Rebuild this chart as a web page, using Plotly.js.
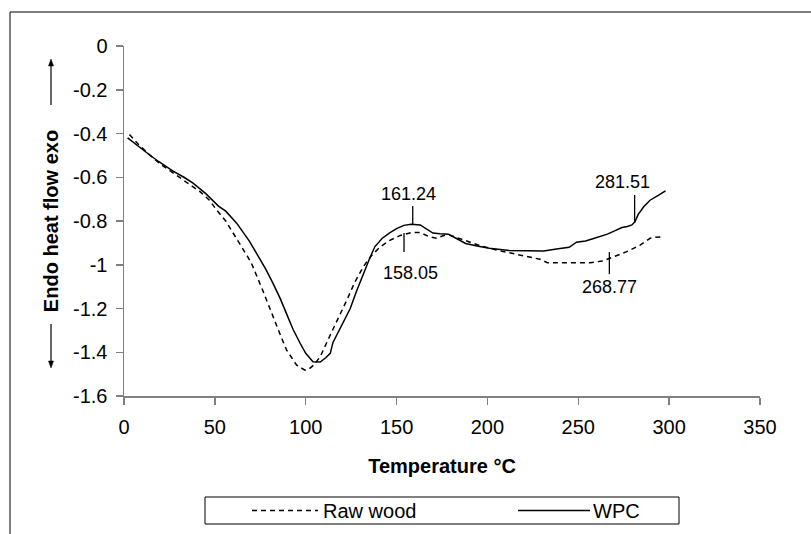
<!DOCTYPE html>
<html>
<head>
<meta charset="utf-8">
<script src="https://cdn.plot.ly/plotly-3.0.1.min.js"></script>
<style>html,body{margin:0;padding:0;background:#fff;}#chart{width:811px;height:534px;}</style>
</head>
<body>
<div id="chart"></div>
<script>
// ---- Data ----
const rawTemp = [3, 8, 14, 20, 27, 33, 42, 47, 51, 56, 60, 65, 70, 76, 82, 86, 89.5, 93, 95, 99.6, 102, 104.5, 108, 113, 118, 122.6, 127, 131.7, 136, 141, 146, 152, 158, 163, 168, 172, 176, 179, 187, 195, 205, 214, 223, 229, 233, 240, 250, 256.5, 263.8, 269.3, 276.7, 284, 289.5, 292, 296];
const rawFlow = [-0.405, -0.45, -0.497, -0.54, -0.58, -0.615, -0.667, -0.705, -0.75, -0.8, -0.856, -0.92, -0.99, -1.11, -1.24, -1.32, -1.39, -1.435, -1.459, -1.482, -1.475, -1.458, -1.42, -1.33, -1.245, -1.162, -1.08, -1.009, -0.96, -0.918, -0.89, -0.866, -0.853, -0.853, -0.872, -0.879, -0.866, -0.864, -0.887, -0.91, -0.933, -0.948, -0.963, -0.975, -0.991, -0.991, -0.991, -0.991, -0.982, -0.963, -0.94, -0.91, -0.879, -0.875, -0.872];

const wpcTemp = [2, 8, 14, 19, 27, 33, 38, 45, 52, 56, 62, 69, 74, 78, 82, 86, 90, 93, 97, 100, 104, 108, 111, 113.5, 115, 120, 124.5, 128, 132, 135, 138, 142, 146, 150, 154, 158, 163, 166, 170, 174, 178.5, 183, 188, 195, 201, 212, 222, 231, 238, 245, 249, 254, 258, 262, 266, 270, 274, 277, 279.5, 281.2, 283, 286, 289.5, 294, 298];
const wpcFlow = [-0.42, -0.46, -0.497, -0.528, -0.572, -0.6, -0.627, -0.675, -0.732, -0.755, -0.81, -0.892, -0.96, -1.02, -1.085, -1.155, -1.235, -1.295, -1.36, -1.405, -1.443, -1.445, -1.425, -1.405, -1.355, -1.27, -1.2, -1.12, -1.035, -0.975, -0.918, -0.88, -0.855, -0.835, -0.82, -0.815, -0.818, -0.835, -0.855, -0.858, -0.86, -0.88, -0.903, -0.915, -0.925, -0.935, -0.937, -0.937, -0.928, -0.92, -0.897, -0.891, -0.881, -0.87, -0.86, -0.845, -0.83, -0.825, -0.818, -0.803, -0.77, -0.735, -0.705, -0.683, -0.662];

const seriesNames = ["Raw wood", "WPC"];

const yTickVals = [0, -0.2, -0.4, -0.6, -0.8, -1, -1.2, -1.4, -1.6];
const yTickText = ["0", "-0.2", "-0.4", "-0.6", "-0.8", "-1", "-1.2", "-1.4", "-1.6"];
const xTickVals = [0, 50, 100, 150, 200, 250, 300, 350];
const xTickText = ["0", "50", "100", "150", "200", "250", "300", "350"];

// peak callouts: label text, label position, tick line (x, y from, y to)
const peakLabels = ["161.24", "158.05", "281.51", "268.77"];
const peakLabelX = [156.8, 157.4, 274.1, 266.9];
const peakLabelY = [-0.676, -1.038, -0.621, -1.102];
const peakTickX = [158.9, 154.1, 281.0, 267.1];
const peakTickY0 = [-0.731, -0.942, -0.681, -1.043];
const peakTickY1 = [-0.818, -0.855, -0.809, -0.942];

// ---- Layout geometry (pixels) ----
const W = 811, H = 534;
const M = {l: 124, r: 51, t: 46, b: 138};
const PW = W - M.l - M.r, PH = H - M.t - M.b;
const px2x = p => (p - M.l) / PW;
const px2y = p => (H - M.b - p) / PH;

const FONT = "Liberation Sans, Arial, sans-serif";
const axisColor = "#808080";

const traces = [
  {x: rawTemp, y: rawFlow, name: seriesNames[0], type: "scatter", mode: "lines",
   line: {color: "#000", width: 1.5, dash: "5px,4px"}},
  {x: wpcTemp, y: wpcFlow, name: seriesNames[1], type: "scatter", mode: "lines",
   line: {color: "#000", width: 1.5}}
];

const shapes = [];
const annotations = [];

// callouts
for (let i = 0; i < peakLabels.length; i++) {
  shapes.push({type: "line", xref: "x", yref: "y", x0: peakTickX[i], x1: peakTickX[i],
    y0: peakTickY0[i], y1: peakTickY1[i], line: {color: "#000", width: 1.3}});
  annotations.push({xref: "x", yref: "y", x: peakLabelX[i], y: peakLabelY[i], text: peakLabels[i],
    showarrow: false, xanchor: "center", yanchor: "middle", font: {family: FONT, size: 18, color: "#000"}});
}

// outer chart-area frame
shapes.push({type: "rect", xref: "paper", yref: "paper", x0: px2x(10), x1: px2x(813),
  y0: px2y(540), y1: px2y(12), line: {color: "#000", width: 1}, fillcolor: "rgba(0,0,0,0)", layer: "below"});

// legend box (manual)
const legY = 510.5;
shapes.push({type: "rect", xref: "paper", yref: "paper", x0: px2x(205), x1: px2x(679),
  y0: px2y(524), y1: px2y(497), line: {color: "#000", width: 1}, fillcolor: "#fff"});
shapes.push({type: "line", xref: "paper", yref: "paper", x0: px2x(252), x1: px2x(318),
  y0: px2y(legY), y1: px2y(legY), line: {color: "#000", width: 1.5, dash: "5px,4px"}});
shapes.push({type: "line", xref: "paper", yref: "paper", x0: px2x(518), x1: px2x(590),
  y0: px2y(legY), y1: px2y(legY), line: {color: "#000", width: 1.5}});
annotations.push({xref: "paper", yref: "paper", x: px2x(321), y: px2y(legY), text: seriesNames[0],
  showarrow: false, xanchor: "left", yanchor: "middle", font: {family: FONT, size: 20, color: "#000"}});
annotations.push({xref: "paper", yref: "paper", x: px2x(591), y: px2y(legY), text: seriesNames[1],
  showarrow: false, xanchor: "left", yanchor: "middle", font: {family: FONT, size: 20, color: "#000"}});

// arrows beside y-axis title (drawn as shapes)
function arrow(xp, yTail, yTip) {
  const dir = yTip < yTail ? -1 : 1; // -1 = pointing up
  const headLen = 7, headHalf = 2.5;
  const base = yTip - dir * headLen;
  shapes.push({type: "line", xref: "paper", yref: "paper", x0: px2x(xp), x1: px2x(xp),
    y0: px2y(yTail), y1: px2y(base), line: {color: "#000", width: 1.2}});
  const path = "M" + px2x(xp) + "," + px2y(yTip) +
               " L" + px2x(xp - headHalf) + "," + px2y(base) +
               " L" + px2x(xp + headHalf) + "," + px2y(base) + " Z";
  shapes.push({type: "path", xref: "paper", yref: "paper", path: path,
    fillcolor: "#000", line: {color: "#000", width: 0.5}});
}
arrow(51, 105, 59);
arrow(51, 324, 368);

const layout = {
  width: W, height: H,
  margin: M,
  paper_bgcolor: "#fff", plot_bgcolor: "#fff",
  showlegend: false,
  font: {family: FONT, size: 20, color: "#000"},
  xaxis: {
    range: [0, 350], tickvals: xTickVals, ticktext: xTickText,
    showgrid: false, zeroline: false, showline: true, linecolor: axisColor, linewidth: 1.5,
    ticks: "outside", ticklen: 7, tickcolor: axisColor, tickwidth: 1.5,
    ticklabelstandoff: 5,
    tickfont: {family: FONT, size: 20, color: "#000"},
    title: {text: "<b>Temperature °C</b>", font: {family: FONT, size: 20, color: "#000"}, standoff: 22}
  },
  yaxis: {
    range: [-1.6, 0], tickvals: yTickVals, ticktext: yTickText,
    showgrid: false, zeroline: false, showline: true, linecolor: axisColor, linewidth: 1.5,
    ticks: "outside", ticklen: 7, tickcolor: axisColor, tickwidth: 1.5,
    ticklabelstandoff: 4,
    tickfont: {family: FONT, size: 20, color: "#000"},
    title: {text: "<b>Endo heat flow exo</b>", font: {family: FONT, size: 20, color: "#000"}, standoff: 9}
  },
  shapes: shapes,
  annotations: annotations
};

Plotly.newPlot("chart", traces, layout, {staticPlot: true, displayModeBar: false});
</script>
</body>
</html>
